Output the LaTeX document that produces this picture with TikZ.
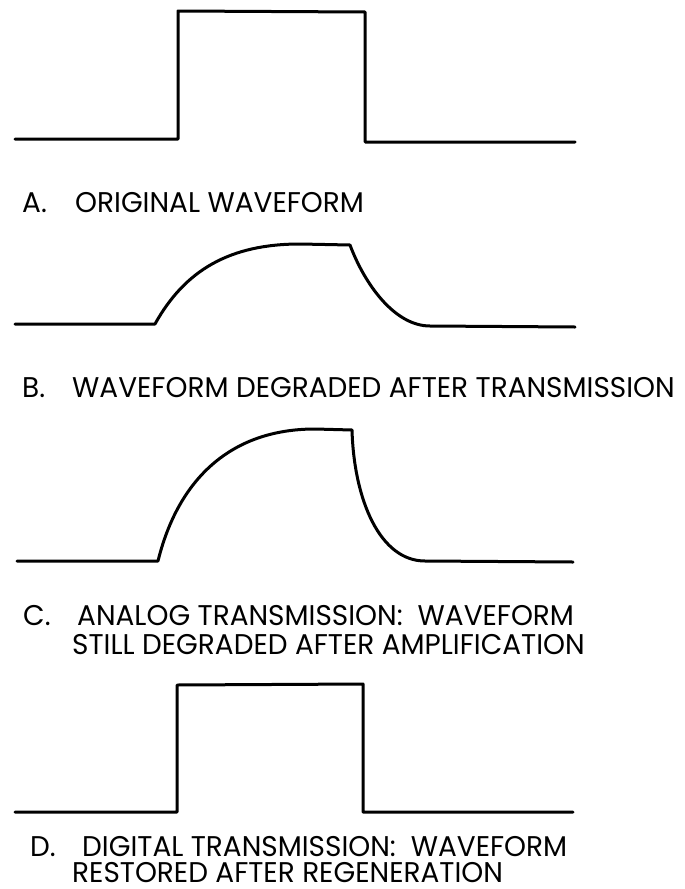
\documentclass[tikz,border=0pt]{standalone}
\usepackage{fontspec}
\newfontfamily\capsfont{Poppins}[FakeStretch=0.98]

\tikzset{
  wave/.style={line width=3pt, line join=round, line cap=round},
  caption/.style={anchor=base west, inner sep=0pt,
    font=\capsfont\fontsize{28.5}{31}\selectfont}
}

\begin{document}
\begin{tikzpicture}
    [x=1pt,y=-1pt]
    \useasboundingbox (0,0) rectangle (685,889);
    %A: original waveform
    \draw[wave] (15,139)--(178,139)--(178,11)--(365,12)--(365,142)--(575,142);
    \node[caption] (letA) at (22,212) {A.};
    \node[caption] (capA) at (75,212) {ORIGINAL WAVEFORM};
    %B: degraded after transmission
    \draw[wave] (15,324)--(155,324)
      .. controls (185,270) and (230,244) .. (300,244)
      --(350,245)
      .. controls (365,285) and (395,326) .. (430,326)
      --(575,327);
    \node[caption] (letB) at (22,397) {B.};
    \node[caption] (capB) at (72,397) {WAVEFORM DEGRADED AFTER TRANSMISSION};
    %C: analog, still degraded after amplification
    \draw[wave] (17,561)--(158,561)
      .. controls (178,480) and (230,429) .. (315,429)
      --(352,430)
      .. controls (354,500) and (380,561) .. (425,561)
      --(573,562);
    \node[caption] (letC) at (23,625) {C.};
    \node[caption] (capC1) at (77,625) {ANALOG TRANSMISSION:\ \ WAVEFORM};
    \node[caption] (capC2) at (72,654) {STILL DEGRADED AFTER AMPLIFICATION};
    %D: digital, restored after regeneration
    \draw[wave] (15,812)--(177,812)--(177,685)--(363,684)--(363,812)--(573,812);
    \node[caption] (letD) at (30,856) {D.};
    \node[caption] (capD1) at (82,856) {DIGITAL TRANSMISSION:\ \ WAVEFORM};
    \node[caption] (capD2) at (72,882) {RESTORED AFTER REGENERATION};
\end{tikzpicture}
\end{document}
